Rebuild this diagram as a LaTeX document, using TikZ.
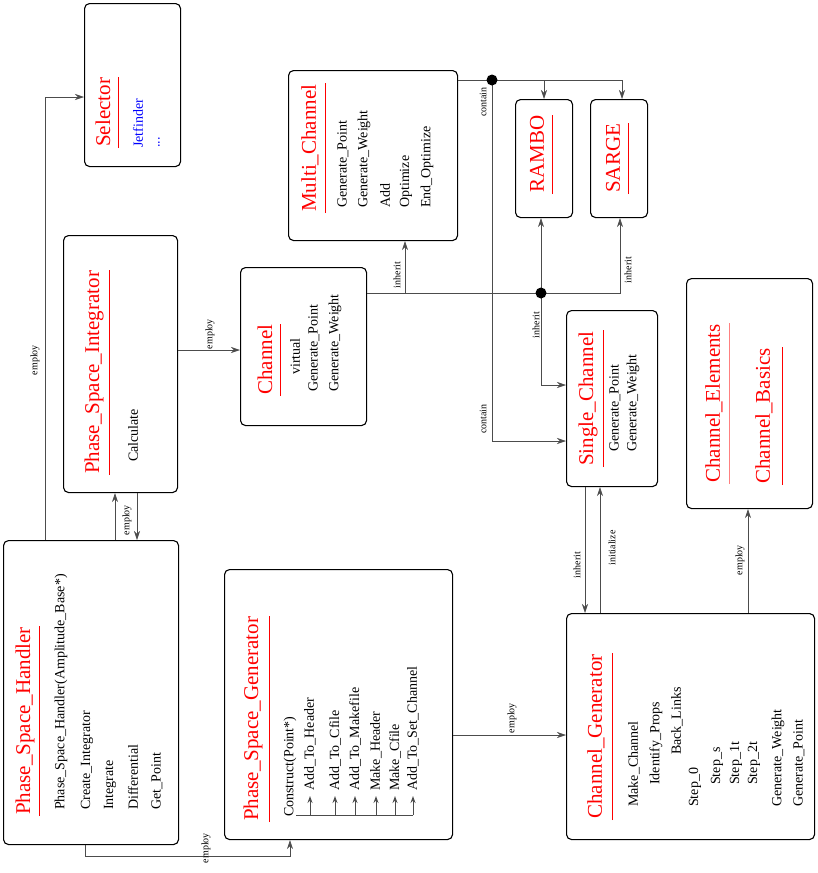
\documentclass[tikz,border=0pt]{standalone}
\usepackage{fontspec}
\setmainfont{Liberation Serif}
\usetikzlibrary{arrows.meta}
\begin{document}
\begin{tikzpicture}[x=1pt,y=-1pt,
  box/.style={draw, line width=1.1pt, rounded corners=5pt, anchor=north west, inner sep=0pt},
  ttl/.style={rotate=90, anchor=west, inner sep=1pt, text=red, font=\fontsize{21}{24}\selectfont},
  itm/.style={rotate=90, anchor=west, inner sep=0pt, font=\fontsize{14}{16}\selectfont},
  lbl/.style={rotate=90, inner sep=0pt, font=\fontsize{10}{11}\selectfont},
  conn/.style={draw=black!70, line width=0.6pt},
  arr/.style={conn, -{Stealth[length=9pt,width=6pt]}},
  stub/.style={conn, -{Stealth[open,length=7pt,width=5pt,line width=1pt]}},
  uline/.style={red, line width=0.8pt}]
\useasboundingbox (0,0) rectangle (817,873);

% boxes
\node[box,minimum width=96pt,minimum height=163pt] (sel) at (84,3) {};
\node[box,minimum width=169pt,minimum height=170pt] (mc) at (288,70) {};
\node[box,minimum width=57pt,minimum height=118pt] (rambo) at (515,99) {};
\node[box,minimum width=57pt,minimum height=118pt] (sarge) at (590,99) {};
\node[box,minimum width=114pt,minimum height=257pt] (psi) at (63,235) {};
\node[box,minimum width=126pt,minimum height=158pt] (chan) at (240,267) {};
\node[box,minimum width=91pt,minimum height=176pt] (sc) at (566,310) {};
\node[box,minimum width=126pt,minimum height=230pt] (ce) at (686,278) {};
\node[box,minimum width=175pt,minimum height=304pt] (psh) at (3,540) {};
\node[box,minimum width=228pt,minimum height=270pt] (psg) at (224,569) {};
\node[box,minimum width=248pt,minimum height=226pt] (cg) at (566,613) {};

% titles
\node[ttl] (tsel) at (103,148) {Selector};
\draw[uline] (tsel.south west -| 118,0) -- (tsel.south east -| 118,0);
\node[ttl] (tmc) at (310,213) {Multi\_Channel};
\draw[uline] (tmc.south west -| 325,0) -- (tmc.south east -| 325,0);
\node[ttl] (tra) at (537,194) {RAMBO};
\draw[uline] (tra.south west -| 552,0) -- (tra.south east -| 552,0);
\node[ttl] (tsa) at (613,194) {SARGE};
\draw[uline] (tsa.south west -| 628,0) -- (tsa.south east -| 628,0);
\node[ttl] (tpsi) at (94,475) {Phase\_Space\_Integrator};
\draw[uline] (tpsi.south west -| 109,0) -- (tpsi.south east -| 109,0);
\node[ttl] (tch) at (265,396) {Channel};
\draw[uline] (tch.south west -| 280,0) -- (tch.south east -| 280,0);
\node[ttl] (tsc) at (588,467) {Single\_Channel};
\draw[uline] (tsc.south west -| 603,0) -- (tsc.south east -| 603,0);
\node[ttl] (tce) at (714,484) {Channel\_Elements};
\draw[uline,red!50] (tce.south west -| 729,0) -- (tce.south east -| 729,0);
\node[ttl] (tcb) at (764,485) {Channel\_Basics};
\draw[uline] (tcb.south west -| 782,0) -- (tcb.south east -| 782,0);
\node[ttl] (tpsh) at (25,816) {Phase\_Space\_Handler};
\draw[uline] (tpsh.south west -| 39,0) -- (tpsh.south east -| 39,0);
\node[ttl] (tpsg) at (253,822) {Phase\_Space\_Generator};
\draw[uline] (tpsg.south west -| 269,0) -- (tpsg.south east -| 269,0);
\node[ttl] (tcg) at (596,820) {Channel\_Generator};
\draw[uline] (tcg.south west -| 612,0) -- (tcg.south east -| 612,0);

% items
\node[itm,text=blue] (s1) at (138,148) {Jetfinder};
\node[itm,text=blue] (s2) at (159,148) {...};

\node[itm] (m1) at (343,208) {Generate\_Point};
\node[itm] (m2) at (364,208) {Generate\_Weight};
\node[itm] (m3) at (385,208) {Add};
\node[itm] (m4) at (406,208) {Optimize};
\node[itm] (m5) at (427,208) {End\_Optimize};

\node[itm] (c1) at (295,375) {virtual};
\node[itm] (c2) at (314,392) {Generate\_Point};
\node[itm] (c3) at (335,392) {Generate\_Weight};

\node[itm] (sc1) at (615,452) {Generate\_Point};
\node[itm] (sc2) at (633,452) {Generate\_Weight};

\node[itm] (p1) at (133,462) {Calculate};

\node[itm] (h1) at (61,810) {Phase\_Space\_Handler(Amplitude\_Base*)};
\node[itm] (h2) at (87,810) {Create\_Integrator};
\node[itm] (h3) at (110,810) {Integrate};
\node[itm] (h4) at (133,810) {Differential};
\node[itm] (h5) at (157,810) {Get\_Point};

\node[itm] (g0) at (290,817) {Construct(Point*)};
\node[itm] (g1) at (310,791) {Add\_To\_Header};
\node[itm] (g2) at (335,791) {Add\_To\_Cfile};
\node[itm] (g3) at (355,791) {Add\_To\_Makefile};
\node[itm] (g4) at (376,791) {Make\_Header};
\node[itm] (g5) at (395,791) {Make\_Cfile};
\node[itm] (g6) at (413,791) {Add\_To\_Set\_Channel};
\coordinate (bar0) at (296,815);
\draw[conn] (bar0) -- (g6.west |- bar0);
\foreach \g in {g1,g2,g3,g4,g5,g6}
  \draw[stub] (\g.west |- bar0) -- ([yshift=-5pt]\g.west);

\node[itm] (k1) at (634,807) {Make\_Channel};
\node[itm] (k2) at (656,785) {Identify\_Props};
\node[itm] (k3) at (677,755) {Back\_Links};
\node[itm] (k4) at (695,807) {Step\_0};
\node[itm] (k5) at (717,785) {Step\_s};
\node[itm] (k6) at (736,785) {Step\_1t};
\node[itm] (k7) at (754,785) {Step\_2t};
\node[itm] (k8) at (778,807) {Generate\_Weight};
\node[itm] (k9) at (799,807) {Generate\_Point};

% connectors
\draw[arr] (psh.north -| 45,0) |- (sel.west |- 0,97);
\node[lbl] at (35,360) {employ};

\draw[arr] (psh.north -| 115,0) -- (psi.south -| 115,0);
\draw[arr] (psi.south -| 137,0) -- (psh.north -| 137,0);
\node[lbl] at (127,520) {employ};

\coordinate (pb) at (85,856);
\draw[arr] (psh.south -| pb) -- (pb) -| (psg.south -| 290,0);
\node[lbl] at (206,848) {employ};

\draw[arr] (psi.east |- 0,350) -- (chan.west |- 0,350);
\node[lbl] at (210,334) {employ};

\coordinate (j1) at (492,80);
\coordinate (j2) at (541,293);
\draw[conn] (chan.east |- j2) -- (j2);
\draw[arr] (405,293) -- (mc.south -| 405,0);
\draw[arr] (j2) -- (rambo.south -| j2);
\draw[arr] (j2) |- (sc.west |- 0,385);
\draw[arr] (j2) -| (sarge.south -| 620,0);
\node[lbl] at (397,275) {inherit};
\node[lbl] at (536,325) {inherit};
\node[lbl] at (628,270) {inherit};

\draw[conn] (mc.east |- j1) -- (j1);
\draw[arr] (j1) -| (rambo.north -| 544,0);
\draw[arr] (j1) -| (sarge.north -| 622,0);
\draw[arr] (j1) |- (sc.west |- 0,441);
\node[lbl] at (483,102) {contain};
\node[lbl] at (483,419) {contain};
\fill (j1) circle (5.5pt);
\fill (j2) circle (5.5pt);

\draw[arr] (sc.south -| 585,0) -- (cg.north -| 585,0);
\node[lbl] at (577,565) {inherit};
\draw[arr] (cg.north -| 600,0) -- (sc.south -| 600,0);
\node[lbl] at (612,548) {initialize};

\draw[arr] (cg.north -| 748,0) -- (ce.south -| 748,0);
\node[lbl] at (740,560) {employ};

\draw[arr] (psg.east |- 0,735) -- (cg.west |- 0,735);
\node[lbl] at (512,718) {employ};
\end{tikzpicture}
\end{document}
